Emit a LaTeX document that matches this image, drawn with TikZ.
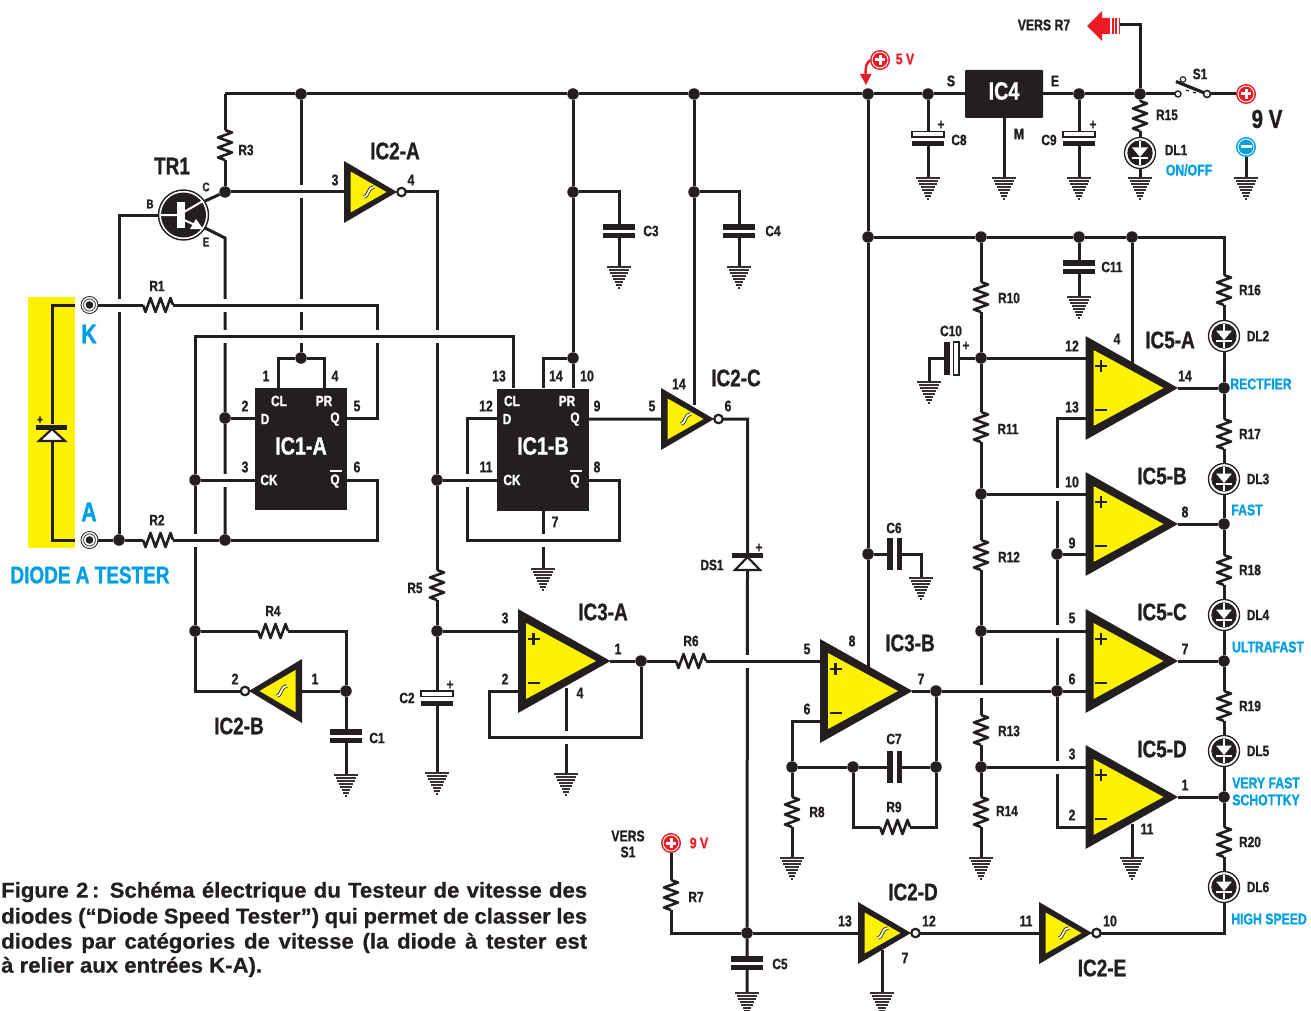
\documentclass[tikz,border=0pt]{standalone}
\usepackage{fontspec}
\setmainfont{Liberation Sans}[UprightFont=* Bold,BoldFont=* Bold]
\newfontfamily\lf{Liberation Sans}[UprightFont=* Bold,FakeStretch=0.79,FakeBold=1]
\newfontfamily\capfont{Liberation Sans}[UprightFont=* Bold,FakeStretch=1.03,FakeBold=0.6]
\definecolor{ink}{HTML}{231F20}
\definecolor{yel}{HTML}{FFF200}
\definecolor{blu}{HTML}{009FE3}
\definecolor{rd}{HTML}{ED1C24}
\newcounter{nn}
\tikzset{
 wire/.style={ink,line width=3pt,line join=miter},
 zig/.style={ink,line width=2.6pt,line join=round},
 hbox/.style={inner sep=0pt,outer sep=0pt,minimum width=30pt,minimum height=14pt},
 vbox/.style={inner sep=0pt,outer sep=0pt,minimum width=14pt,minimum height=30pt},
 jdot/.style={circle,fill=ink,inner sep=0pt,outer sep=0pt,minimum size=11.5pt},
 bub/.style={circle,draw=ink,fill=white,line width=2.2pt,inner sep=0pt,outer sep=0pt,minimum size=8.5pt},
 gbox/.style={inner sep=0pt,outer sep=0pt,minimum width=24pt,minimum height=22pt,anchor=north},
 gl/.style={ink!92,line width=2.2pt},
 chip/.style={fill=ink,inner sep=0pt,outer sep=0pt},
 pin/.style={ink,inner sep=0pt,font=\lf\fontsize{15.5}{15.5}\selectfont},
 sm/.style={ink,inner sep=0pt,font=\lf\fontsize{15}{15}\selectfont},
 big/.style={ink,inner sep=0pt,font=\lf\fontsize{24}{24}\selectfont},
 tiny/.style={ink,inner sep=0pt,font=\lf\fontsize{12.5}{12.5}\selectfont},
 wht/.style={white,inner sep=0pt,font=\lf\fontsize{15}{15}\selectfont},
 whtb/.style={white,inner sep=0pt,font=\lf\fontsize{25}{25}\selectfont},
 bsm/.style={blu,inner sep=0pt,font=\lf\fontsize{15.5}{15.5}\selectfont},
 rsm/.style={rd,inner sep=0pt,font=\lf\fontsize{15.5}{15.5}\selectfont},
 capl/.style={ink,inner sep=0pt,anchor=west,font=\capfont\fontsize{21.5}{21.5}\selectfont},
}
\newcommand\Lb[4][sm]{\stepcounter{nn}\node[#1] (t\number\value{nn}) at (#2,#3) {#4};}
\newcommand\Dot[3]{\node[jdot] (#1) at (#2,#3) {};}
\newcommand\Rv[3]{\node[vbox] (#1) at (#2,#3) {};
 \draw[zig] (#1.north) -- ++(7,2.5) -- ++(-14,5) -- ++(14,5) -- ++(-14,5) -- ++(14,5) -- ++(-14,5) -- ++(7,2.5);}
\newcommand\Rh[3]{\node[hbox] (#1) at (#2,#3) {};
 \draw[zig] (#1.west) -- ++(2.5,7) -- ++(5,-14) -- ++(5,14) -- ++(5,-14) -- ++(5,14) -- ++(5,-14) -- ++(2.5,7);}
\newcommand\Gnd[3]{\node[gbox] (#1) at (#2,#3) {};
 \foreach \i in {0,...,7}{\draw[gl] ({#2-12+1.55*\i},{#3+1.2+3*\i}) -- ({#2+12-1.55*\i},{#3+1.2+3*\i});}}
\newcommand\Cv[3]{\node[inner sep=0pt,outer sep=0pt,minimum width=32pt,minimum height=14pt] (#1) at (#2,#3) {};
 \fill[ink] (#2-16,#3-7) rectangle (#2+16,#3-1.5);
 \fill[ink] (#2-16,#3+1.5) rectangle (#2+16,#3+7);}
\newcommand\Cpv[3]{\node[inner sep=0pt,outer sep=0pt,minimum width=32pt,minimum height=15pt] (#1) at (#2,#3) {};
 \draw[ink,fill=white,line width=1.2pt] (#2-16,#3-7) rectangle (#2+16,#3-1.5);
 \fill[ink] (#2-16,#3+2.5) rectangle (#2+16,#3+7.5);}
\newcommand\Ch[3]{\node[inner sep=0pt,outer sep=0pt,minimum width=15pt,minimum height=32pt] (#1) at (#2,#3) {};
 \fill[ink] (#2-7.5,#3-16) rectangle (#2-2,#3+16);
 \fill[ink] (#2+2,#3-16) rectangle (#2+7.5,#3+16);}
\newcommand\Led[3]{\node[circle,draw=ink,fill=white,line width=1.3pt,inner sep=0pt,outer sep=0pt,minimum size=31pt] (#1) at (#2,#3) {};
 \fill[ink] (#2,#3) circle (12.7);
 \fill[white] (#2-8,#3-5.5) -- (#2+8,#3-5.5) -- (#2,#3+4) -- cycle;
 \draw[white,line width=2.2pt] (#2-8,#3+5) -- (#2+8,#3+5) (#2,#3+4) -- (#2,#3+12) (#2,#3-12) -- (#2,#3-5);}
\newcommand\Plus[3]{\node[circle,fill=rd,inner sep=0pt,outer sep=0pt,minimum size=20pt] (#1) at (#2,#3) {};
 \draw[white,line width=0.9pt] (#2,#3) circle (8);
 \draw[white,line width=3pt] (#2-5,#3) -- (#2+5,#3) (#2,#3-5) -- (#2,#3+5);}
\newcommand\Mns[3]{\node[circle,fill=blu,inner sep=0pt,outer sep=0pt,minimum size=20pt] (#1) at (#2,#3) {};
 \draw[white,line width=0.9pt] (#2,#3) circle (8);
 \draw[white,line width=3pt] (#2-5.5,#3) -- (#2+5.5,#3);}
\newcommand\Sch[2]{\draw[ink,line width=3.4pt] (#1-5,#2+5) .. controls (#1-1,#2+6) and (#1-1,#2-6) .. (#1+5,#2-5);
 \draw[white,line width=1.8pt] (#1-5,#2+5) .. controls (#1-1,#2+6) and (#1-1,#2-6) .. (#1+5,#2-5);}
\newcommand\Inv[3]{\fill[ink] (#2,#3-31) -- (#2+53,#3) -- (#2,#3+31) -- cycle;
 \fill[yel] (#2+6.5,#3-20.5) -- (#2+42.5,#3) -- (#2+6.5,#3+20.5) -- cycle;
 \Sch{#2+25}{#3}
 \coordinate (#1-in) at (#2,#3);
 \node[bub] (#1-b) at (#2+57.5,#3) {};}
\newcommand\InvL[3]{\fill[ink] (#2,#3-32) -- (#2-53,#3) -- (#2,#3+32) -- cycle;
 \fill[yel] (#2-6.5,#3-21) -- (#2-42.5,#3) -- (#2-6.5,#3+21) -- cycle;
 \Sch{#2-20}{#3}
 \coordinate (#1-in) at (#2,#3);
 \node[bub] (#1-b) at (#2-57,#3) {};}
\newcommand\Opamp[3]{\fill[ink] (#2,#3-52) -- (#2+92.5,#3) -- (#2,#3+52) -- cycle;
 \fill[yel] (#2+8,#3-38) -- (#2+78,#3) -- (#2+8,#3+38) -- cycle;
 \draw[ink,line width=2.4pt] (#2+9.5,#3-22) -- (#2+21.5,#3-22) (#2+15.5,#3-28) -- (#2+15.5,#3-16) (#2+9.5,#3+22) -- (#2+21.5,#3+22);
 \coordinate (#1-p) at (#2,#3-30);
 \coordinate (#1-m) at (#2,#3+30);
 \coordinate (#1-o) at (#2+92,#3);}
\newcommand\Hop[2]{\fill[white] (#1-3.2,#2-6.5) rectangle (#1+3.2,#2+6.5);
 \draw[wire] (#1-4,#2) -- (#1+4,#2);}
\begin{document}
\begin{tikzpicture}[x=1pt,y=-1pt]
\useasboundingbox (0,0) rectangle (1311,1011);
\fill[yel] (28,297) rectangle (75,548);
\Dot{r301}{301}{94}\Dot{r573}{573}{94}\Dot{r694}{694}{94}\Dot{r868}{868}{94}
\Dot{r928}{928}{94}\Dot{r1079}{1079}{94}\Dot{r1140}{1140}{94}
\Dot{jC}{225}{192}\Dot{jA}{119}{540}\Dot{ja}{225}{418}\Dot{jb}{225}{540}
\Dot{jc}{195}{480}\Dot{jd}{195}{631}\Dot{je}{301}{358}\Dot{jf}{573}{192}\Dot{jg}{573}{358}
\Dot{jh}{694}{192}\Dot{ji}{437}{480}\Dot{jj}{437}{631}\Dot{jk}{346}{691}\Dot{jl}{641}{661}
\Dot{jm}{747}{933}\Dot{jn}{868}{237}\Dot{jo}{868}{554}
\Dot{kA}{981}{237}\Dot{kB}{1079}{237}\Dot{kC}{1132}{237}
\Dot{kD}{981}{358}\Dot{kE}{981}{494}\Dot{kF}{981}{631}\Dot{kG}{981}{767}
\Dot{kH}{1057}{554}\Dot{kI}{1057}{691}
\Dot{kJ}{936}{691}\Dot{kK}{936}{767}\Dot{kL}{853}{767}\Dot{kM}{792}{767}
\Dot{mA}{1224}{388}\Dot{mB}{1224}{524}\Dot{mC}{1224}{661}\Dot{mD}{1224}{797}
\coordinate (c225) at (225,94);
\coordinate (TRc) at (205,201);\coordinate (TRe) at (205,228);\coordinate (TRf) at (225,238);
\coordinate (cl1) at (278,388);\coordinate (pr1) at (324,388);
\coordinate (d1) at (255,418);\coordinate (q1) at (347,418);\coordinate (ck1) at (255,480);\coordinate (qb1) at (347,480);
\coordinate (c377a) at (377,418);\coordinate (c377b) at (377,540);
\coordinate (c336) at (195,336);\coordinate (c691) at (195,691);
\coordinate (cl2) at (513,388);\coordinate (pr2) at (573,388);\coordinate (p14) at (543,388);
\coordinate (d2) at (497,418);\coordinate (q2) at (589,419);\coordinate (ck2) at (497,480);\coordinate (qb2) at (589,480);
\coordinate (c467) at (467,540);\coordinate (c619) at (619,540);\coordinate (p7) at (543,510);
\coordinate (t694) at (694,405);
\coordinate (c489) at (489,737);\coordinate (p4a) at (566,688);
\coordinate (p8) at (868,667);\coordinate (c1224) at (1224,237);\coordinate (p4b) at (1132,366);
\coordinate (p11) at (1132,824);\coordinate (p7d) at (882,950);
\coordinate (c25) at (1140,25);\coordinate (ar) at (1120,25);
\coordinate (yKe) at (75,305);\coordinate (yAe) at (75,540);
\Rv{R3}{225}{145}\Rv{R5}{437}{585}\Rv{R7}{671}{895}\Rv{R8}{792}{812}
\Rv{R10}{981}{297}\Rv{R11}{981}{427}\Rv{R12}{981}{555}\Rv{R13}{981}{730}\Rv{R14}{981}{812}
\Rv{R15}{1140}{116}\Rv{R16}{1224}{290}\Rv{R17}{1224}{434}\Rv{R18}{1224}{570}\Rv{R19}{1224}{706}\Rv{R20}{1224}{842}
\Rh{R1}{158}{305}\Rh{R2}{158}{540}\Rh{R4}{273}{631}\Rh{R6}{691}{661}\Rh{R9}{895}{827}
\Cv{C1}{346}{736}\Cv{C3}{619}{231}\Cv{C4}{739}{231}\Cv{C5}{747}{963}\Cv{C11}{1079}{267}
\Cpv{C2}{437}{698}\Cpv{C8}{928}{138.5}\Cpv{C9}{1079}{138.5}
\Ch{C6}{894.5}{554}\Ch{C7}{894.5}{767}
\node[inner sep=0pt,outer sep=0pt,minimum width=15pt,minimum height=33pt] (C10) at (951.5,358) {};
\fill[ink] (944,342) rectangle (950,375);
\draw[ink,fill=white,line width=1.1pt] (953.5,342) rectangle (959,375);
\Led{DL1}{1140}{153}\Led{DL2}{1224}{336}\Led{DL3}{1224}{479}\Led{DL4}{1224}{615}\Led{DL5}{1224}{751}\Led{DL6}{1224}{887}
\Gnd{G1}{346}{774}\Gnd{G2}{437}{772}\Gnd{G3}{566}{773}\Gnd{G4}{619}{266}\Gnd{G5}{739}{266}\Gnd{G6}{543}{568}
\Gnd{G7}{928}{177}\Gnd{G8}{1004}{177}\Gnd{G9}{1079}{177}\Gnd{G10}{1140}{177}\Gnd{G11}{1246}{177}
\Gnd{G12}{1079}{296}\Gnd{G13}{929}{381}\Gnd{G14}{921}{577}\Gnd{G15}{792}{857}\Gnd{G16}{981}{857}\Gnd{G17}{1132}{857}
\Gnd{G18}{747}{992}\Gnd{G19}{882}{992}
\Inv{IC2A}{344}{192}\Inv{IC2C}{661}{419}\Inv{IC2D}{858}{933}\Inv{IC2E}{1039}{933}
\InvL{IC2B}{302}{691}
\Opamp{IC3A}{518}{661}\Opamp{IC3B}{820}{691}
\Opamp{IC5A}{1085.5}{388}\Opamp{IC5B}{1085.5}{524}\Opamp{IC5C}{1085.5}{661}\Opamp{IC5D}{1085.5}{797}
\node[chip,minimum width=92pt,minimum height=122pt] (IC1A) at (301,449) {};
\node[chip,minimum width=92pt,minimum height=122pt] (IC1B) at (543,449.5) {};
\node[chip,rounded corners=1pt,minimum width=78pt,minimum height=48pt] (IC4) at (1004,94) {};
\node[circle,draw=ink,fill=white,line width=1.4pt,inner sep=0pt,outer sep=0pt,minimum size=50pt] (TR1) at (183.5,215) {};
\fill[ink] (183.5,215) circle (22.5);
\fill[white] (177,202) rectangle (185,228);
\draw[white,line width=2pt] (161,215) -- (178,215) (184,212) -- (203,201) (184,220) -- (195,225);
\fill[white] (203,229) -- (190,229) -- (196,219) -- cycle;
\node[inner sep=0pt,outer sep=0pt,minimum width=32pt,minimum height=18pt] (DS1) at (747.5,562) {};
\draw[ink,fill=white,line width=2.2pt,line join=miter] (747.5,557) -- (760,570) -- (735,570) -- cycle;
\fill[ink] (732,553) rectangle (763,558);
\node[inner sep=0pt,outer sep=0pt,minimum width=32pt,minimum height=18pt] (DT) at (52,433) {};
\draw[ink,fill=white,line width=2.2pt,line join=miter] (52,429) -- (65,441) -- (39,441) -- cycle;
\fill[ink] (36,425) rectangle (67,430);
\foreach \n/\y in {JK/305,JA/540}{
 \node[circle,draw=ink,fill=white,line width=0.8pt,inner sep=0pt,outer sep=0pt,minimum size=17pt] (\n) at (89.5,\y) {};
 \draw[ink!70,line width=1pt] (89.5,\y) circle (6);
 \fill[ink] (89.5,\y) circle (3.8);}
\Plus{Pa}{880}{60}\Plus{Pb}{1246}{94}\Plus{Pc}{671}{843}\Mns{Mn}{1246}{147}
\node[bub,minimum size=6pt,line width=1.4pt] (swL) at (1178,94) {};
\node[bub,minimum size=7pt,line width=1.6pt] (swR) at (1207,94) {};
\node[bub,minimum size=5.5pt,line width=1.2pt] (swT) at (1183,79.5) {};
\coordinate (swB) at (1176,81.5);
\draw[ink,line width=3.2pt] (swR) -- (swB);
\draw[ink,line width=1.2pt] (1186,90) -- (1189,91) (1193,92) -- (1196,93);
\draw[rd,line width=2.4pt] (871,60) .. controls (866,62) and (865.5,67) .. (865.5,76);
\fill[rd] (860,74) -- (871.5,74) -- (866,85) -- cycle;
\fill[rd] (1087,26) -- (1102,11) -- (1102,18) -- (1108,18) -- (1108,34) -- (1102,34) -- (1102,41) -- cycle;
\fill[rd] (1108,18) rectangle (1120,34);
\draw[white,line width=1.1pt] (1111,18) -- (1111,34) (1114.5,18) -- (1114.5,34) (1118,18) -- (1118,34);
\draw[wire] (c225) -- (r301) -- (r573) -- (r694) -- (r868) -- (r928) -- (IC4.west);
\draw[wire] (IC4.east) -- (r1079) -- (r1140) -- (swL);
\draw[wire] (swR) -- (Pb);
\draw[wire] (c225) -- (R3.north) (R3.south) -- (jC) -- (IC2A-in);
\draw[wire] (jC) -- (TRc);
\draw[wire] (TRe) -- (TRf) -- (ja) -- (jb);
\draw[wire] (TR1.west) -| (jA);
\draw[wire] (r301) -- (je);
\draw[wire] (je) -| (cl1) (je) -| (pr1);
\draw[wire] (JK) -- (R1.west) (R1.east) -| (c377a) -- (q1);
\draw[wire] (JA) -- (jA) -- (R2.west) (R2.east) -- (jb) -- (c377b) |- (qb1);
\draw[wire] (ja) -- (d1) (jc) -- (ck1);
\draw[wire] (cl2) |- (c336) -- (jc) -- (jd) -- (c691) -- (IC2B-b);
\draw[wire] (jd) -- (R4.west) (R4.east) -| (jk);
\draw[wire] (jk) -- (IC2B-in) (jk) -- (C1.north) (C1.south) -- (G1.north);
\draw[wire] (IC2A-b) -| (ji) (ji) -- (R5.north) (R5.south) -- (jj) -- (C2.north) (C2.south) -- (G2.north);
\draw[wire] (ji) -- (ck2) (jj) -- (IC3A-p);
\draw[wire] (r573) -- (jf) -- (jg) -- (pr2) (jg) -| (p14) (jf) -| (C3.north) (C3.south) -- (G4.north);
\draw[wire] (r694) -- (jh) -- (t694) (jh) -| (C4.north) (C4.south) -- (G5.north);
\draw[wire] (d2) -| (c467) -- (c619) |- (qb2);
\draw[wire] (p7) -- (G6.north);
\draw[wire] (q2) -- (IC2C-in) (IC2C-b) -| (DS1.north) (DS1.south) -- (jm) -- (C5.north) (C5.south) -- (G18.north);
\draw[wire] (Pc) -- (R7.north) (R7.south) |- (jm) (jm) -- (IC2D-in);
\draw[wire] (IC3A-o) -- (jl) -- (R6.west) (R6.east) -- (IC3B-p);
\draw[wire] (jl) |- (c489) |- (IC3A-m);
\draw[wire] (p4a) -- (G3.north);
\draw[wire] (r868) -- (jn) -- (jo) -- (p8);
\draw[wire] (jn) -- (kA) -- (kB) -- (kC) -- (c1224) -- (R16.north);
\draw[wire] (jo) -- (C6.west) (C6.east) -| (G14.north);
\draw[wire] (IC3B-m) -| (kM) (kM) -- (R8.north) (R8.south) -- (G15.north);
\draw[wire] (kM) -- (kL) -- (C7.west) (C7.east) -- (kK) -- (kJ);
\draw[wire] (kL) |- (R9.west) (R9.east) -| (kK);
\draw[wire] (IC3B-o) -- (kJ) -- (kI) -- (IC5C-m);
\draw[wire] (IC5A-m) -| (kH) (kH) -- (IC5B-m) (kH) -- (kI) (kI) |- (IC5D-m);
\draw[wire] (r928) -- (C8.north) (C8.south) -- (G7.north);
\draw[wire] (IC4.south) -- (G8.north);
\draw[wire] (r1079) -- (C9.north) (C9.south) -- (G9.north);
\draw[wire] (r1140) -- (R15.north) (R15.south) -- (DL1.north) (DL1.south) -- (G10.north);
\draw[wire] (r1140) -- (c25) -- (ar);
\draw[wire] (Mn) -- (G11.north);
\draw[wire] (kA) -- (R10.north) (R10.south) -- (kD) -- (R11.north) (R11.south) -- (kE) -- (R12.north) (R12.south) -- (kF) -- (R13.north) (R13.south) -- (kG) -- (R14.north) (R14.south) -- (G16.north);
\draw[wire] (kD) -- (C10.east) (C10.west) -| (G13.north);
\draw[wire] (kD) -- (IC5A-p) (kE) -- (IC5B-p) (kF) -- (IC5C-p) (kG) -- (IC5D-p);
\draw[wire] (kC) -- (p4b);
\draw[wire] (kB) -- (C11.north) (C11.south) -- (G12.north);
\draw[wire] (IC5A-o) -- (mA) (IC5B-o) -- (mB) (IC5C-o) -- (mC) (IC5D-o) -- (mD);
\draw[wire] (R16.south) -- (DL2.north) (DL2.south) -- (mA) -- (R17.north) (R17.south) -- (DL3.north) (DL3.south) -- (mB) -- (R18.north) (R18.south) -- (DL4.north) (DL4.south) -- (mC) -- (R19.north) (R19.south) -- (DL5.north) (DL5.south) -- (mD) -- (R20.north) (R20.south) -- (DL6.north);
\draw[wire] (DL6.south) |- (IC2E-b);
\draw[wire] (IC2D-b) -- (IC2E-in);
\draw[wire] (p11) -- (G17.north);
\draw[wire] (p7d) -- (G19.north);
\draw[wire] (yKe) -| (DT.north) (DT.south) |- (yAe);
\Hop{119}{305}\Hop{225}{305}\Hop{301}{305}\Hop{225}{336}\Hop{301}{336}\Hop{377}{336}\Hop{301}{192}
\Hop{225}{480}\Hop{195}{540}\Hop{437}{336}\Hop{467}{480}\Hop{543}{540}\Hop{747}{661}\Hop{566}{737}
\Hop{1057}{494}\Hop{1057}{631}\Hop{1057}{767}\Hop{981}{691}
\Lb[big]{172}{166}{TR1}\Lb[tiny]{150}{204}{B}\Lb[tiny]{206}{187}{C}\Lb[tiny]{206}{242}{E}
\Lb{246}{150}{R3}\Lb[big]{395}{151}{IC2-A}\Lb[pin]{335}{180}{3}\Lb[pin]{411}{180}{4}
\Lb{157}{286}{R1}\Lb{157}{520}{R2}
\Lb[{blu,inner sep=0pt,font=\lf\fontsize{27}{27}\selectfont}]{89}{334}{K}
\Lb[{blu,inner sep=0pt,font=\lf\fontsize{27}{27}\selectfont}]{89}{512}{A}
\Lb[{blu,inner sep=0pt,font=\lf\fontsize{24}{24}\selectfont}]{90}{575}{DIODE A TESTER}
\Lb[tiny]{40}{420}{+}
\Lb[pin]{266}{376}{1}\Lb[pin]{335}{376}{4}\Lb[pin]{245}{406}{2}\Lb[pin]{357}{406}{5}\Lb[pin]{245}{467}{3}\Lb[pin]{357}{467}{6}
\Lb[wht]{279}{401}{CL}\Lb[wht]{324}{401}{PR}\Lb[wht]{265}{419}{D}\Lb[wht]{335}{419}{Q}\Lb[wht]{269}{480}{CK}\Lb[wht]{335}{481}{Q}
\Lb[whtb]{301}{446}{IC1-A}
\draw[white,line width=2pt] (330,471) -- (342,471);
\Lb[pin]{499}{376}{13}\Lb[pin]{556}{376}{14}\Lb[pin]{587}{376}{10}\Lb[pin]{486}{406}{12}\Lb[pin]{597}{406}{9}\Lb[pin]{486}{467}{11}\Lb[pin]{597}{467}{8}\Lb[pin]{555}{522}{7}
\Lb[wht]{512}{401}{CL}\Lb[wht]{567}{401}{PR}\Lb[wht]{507}{419}{D}\Lb[wht]{575}{419}{Q}\Lb[wht]{512}{480}{CK}\Lb[wht]{575}{481}{Q}
\Lb[whtb]{543}{446}{IC1-B}
\draw[white,line width=2pt] (570,471) -- (582,471);
\Lb[pin]{652}{406}{5}\Lb[pin]{679}{384}{14}\Lb[pin]{728}{406}{6}\Lb[big]{736}{378}{IC2-C}
\Lb{651}{231}{C3}\Lb{773}{231}{C4}\Lb{712}{565}{DS1}\Lb[sm]{759}{548}{+}
\Lb{415}{588}{R5}\Lb{273}{611}{R4}\Lb[pin]{235}{679}{2}\Lb[pin]{315}{679}{1}\Lb[big]{239}{726}{IC2-B}\Lb{377}{738}{C1}
\Lb{407}{698}{C2}\Lb[sm]{450}{685}{+}
\Lb[pin]{505}{618}{3}\Lb[pin]{505}{679}{2}\Lb[pin]{618}{649}{1}\Lb[pin]{580}{693}{4}\Lb[big]{603}{612}{IC3-A}
\Lb{691}{641}{R6}\Lb[pin]{807}{649}{5}\Lb[pin]{852}{641}{8}\Lb[pin]{807}{709}{6}\Lb[pin]{921}{679}{7}\Lb[big]{910}{643}{IC3-B}
\Lb{894}{528}{C6}\Lb{894}{739}{C7}\Lb{817}{812}{R8}\Lb{894}{807}{R9}
\Lb{1009}{298}{R10}\Lb{1008}{429}{R11}\Lb{1009}{557}{R12}\Lb{1009}{731}{R13}\Lb{1007}{811}{R14}
\Lb{951}{331}{C10}\Lb[sm]{966}{346}{+}\Lb{1112}{267}{C11}
\Lb[pin]{1072}{346}{12}\Lb[pin]{1072}{407}{13}\Lb[pin]{1117}{339}{4}\Lb[big]{1170}{340}{IC5-A}\Lb[pin]{1185}{376}{14}
\Lb[pin]{1072}{482}{10}\Lb[pin]{1072}{543}{9}\Lb[pin]{1185}{512}{8}\Lb[big]{1162}{476}{IC5-B}
\Lb[pin]{1072}{618}{5}\Lb[pin]{1072}{679}{6}\Lb[pin]{1185}{649}{7}\Lb[big]{1162}{612}{IC5-C}
\Lb[pin]{1072}{754}{3}\Lb[pin]{1072}{815}{2}\Lb[pin]{1185}{785}{1}\Lb[pin]{1147}{829}{11}\Lb[big]{1162}{749}{IC5-D}
\Lb{1250}{290}{R16}\Lb{1258}{336}{DL2}\Lb{1250}{434}{R17}\Lb{1258}{479}{DL3}\Lb{1250}{570}{R18}\Lb{1258}{615}{DL4}\Lb{1250}{706}{R19}\Lb{1258}{751}{DL5}\Lb{1250}{842}{R20}\Lb{1258}{887}{DL6}
\Lb[bsm]{1261}{384}{RECTFIER}\Lb[bsm]{1247}{510}{FAST}\Lb[bsm]{1268}{647}{ULTRAFAST}\Lb[bsm]{1266}{783}{VERY FAST}\Lb[bsm]{1266}{800}{SCHOTTKY}\Lb[bsm]{1269}{919}{HIGH SPEED}
\Lb[pin]{628}{836}{VERS}\Lb[pin]{628}{852}{S1}\Lb[rsm]{699}{843}{9 V}\Lb{696}{897}{R7}\Lb{780}{964}{C5}
\Lb[big]{913}{892}{IC2-D}\Lb[pin]{845}{921}{13}\Lb[pin]{929}{921}{12}\Lb[pin]{905}{958}{7}
\Lb[big]{1102}{968}{IC2-E}\Lb[pin]{1026}{921}{11}\Lb[pin]{1110}{921}{10}
\Lb[pin]{951}{81}{S}\Lb[pin]{1055}{81}{E}\Lb[whtb]{1004}{91}{IC4}\Lb[pin]{1019}{134}{M}\Lb{959}{140}{C8}\Lb{1049}{140}{C9}\Lb[sm]{941}{125}{+}\Lb[sm]{1093}{125}{+}
\Lb{1167}{115}{R15}\Lb{1176}{150}{DL1}\Lb[bsm]{1189}{170}{ON/OFF}\Lb{1200}{74}{S1}
\Lb[{ink,inner sep=0pt,font=\lf\fontsize{26}{26}\selectfont}]{1267}{119}{9 V}
\Lb[rsm]{905}{59}{5 V}\Lb[pin]{1044}{25}{VERS R7}
\Lb[capl]{1}{892}{\makebox[586pt][s]{Figure 2\,: Schéma électrique du Testeur de vitesse des}}
\Lb[capl]{1}{918}{\makebox[586pt][s]{diodes (“Diode Speed Tester”) qui permet de classer les}}
\Lb[capl]{1}{943}{\makebox[586pt][s]{diodes par catégories de vitesse (la diode à tester est}}
\Lb[capl]{1}{967}{à relier aux entrées K-A).}
\end{tikzpicture}
\end{document}
